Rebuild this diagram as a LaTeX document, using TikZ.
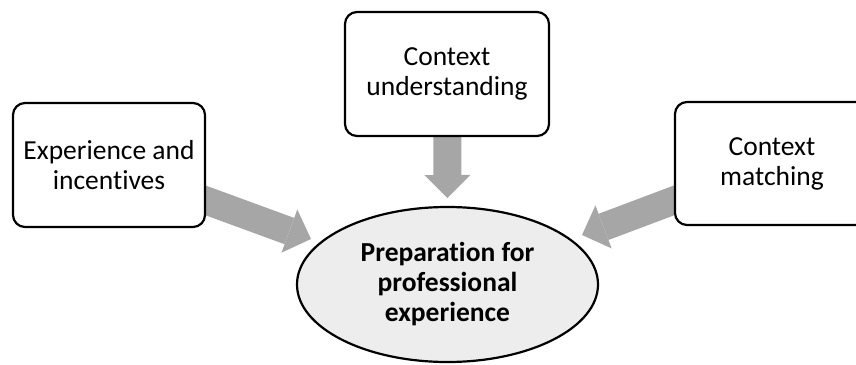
\documentclass[tikz,border=0pt]{standalone}
\usepackage{fontspec}
\setmainfont{Carlito}[Ligatures={NoCommon}]
\usetikzlibrary{shapes.geometric,arrows.meta,backgrounds}
\definecolor{arrowgray}{HTML}{A6A6A6}
\definecolor{hubfill}{HTML}{EDEDED}
\begin{document}
\begin{tikzpicture}[x=1pt,y=-1pt,
  factorbox/.style={draw,line width=2.2pt,rounded corners=12pt,fill=white,
    align=center,inner sep=0pt,font=\fontsize{27.5}{30}\selectfont},
  hub/.style={ellipse,draw,line width=2.2pt,fill=hubfill,inner sep=0pt,
    minimum width=301pt,minimum height=155pt,align=center,
    font=\bfseries\fontsize{27.5}{30}\selectfont},
  feed/.style={arrowgray,line width=28pt,
    -{Triangle[length=23pt,width=46pt,line width=0pt]}}
]
\useasboundingbox (0,0) rectangle (856,364);
\clip (0,0) rectangle (856,364);

% the three contributing factors
\node[factorbox,minimum width=192pt,minimum height=124pt] (exp) at (109,165)
  {Experience and\\incentives};
\node[factorbox,minimum width=204pt,minimum height=124pt] (und) at (447,74)
  {Context\\understanding};
\node[factorbox,minimum width=194pt,minimum height=123pt] (mat) at (772,163.5)
  {Context\\matching};

% central outcome
\node[hub] (prep) at (447.5,284.5) {Preparation for\\professional\\experience};

% arrow tips next to the ellipse
\coordinate (tipE) at (311,239);
\coordinate (tipU) at (447.5,198);
\coordinate (tipM) at (582,235);

\begin{pgfonlayer}{background}
  \draw[feed] (exp.center) -- (tipE);
  \draw[feed] (und.center) -- (tipU);
  \draw[feed] (mat.center) -- (tipM);
\end{pgfonlayer}
\end{tikzpicture}
\end{document}
